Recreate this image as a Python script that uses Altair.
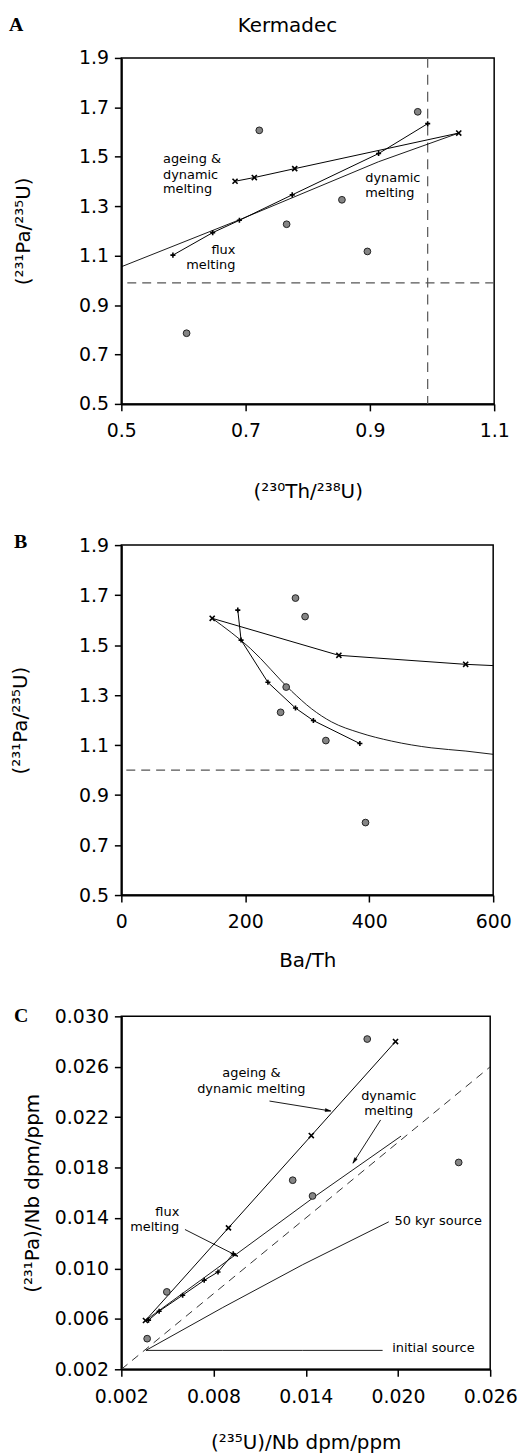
import math
import altair as alt
import pandas as pd

FONT = "DejaVu Sans"
SERIF = "Liberation Serif"

# ---------------- Panel A data ----------------
a_samples_x = [0.977, 0.722, 0.855, 0.766, 0.896, 0.605]
a_samples_y = [1.682, 1.607, 1.326, 1.227, 1.117, 0.786]
a_ageing_x = [0.683, 0.714, 0.779, 1.043]
a_ageing_y = [1.401, 1.416, 1.452, 1.596]
a_flux_x = [0.583, 0.647, 0.690, 0.775, 0.914, 0.993]
a_flux_y = [1.102, 1.193, 1.243, 1.346, 1.513, 1.634]
a_dyn_x = [0.500, 0.690, 0.914, 1.043]
a_dyn_y = [1.055, 1.245, 1.480, 1.596]
a_hline = [0.99]
a_vline = [0.993]
a_xticks = [0.5, 0.7, 0.9, 1.1]
a_yticks = [0.5, 0.7, 0.9, 1.1, 1.3, 1.5, 1.7, 1.9]
a_lab_left_text = ["ageing &", "dynamic", "melting", "dynamic", "melting"]
a_lab_left_x = [0.567, 0.567, 0.567, 0.8925, 0.8925]
a_lab_left_y = [1.489, 1.428, 1.368, 1.415, 1.352]
a_lab_right_text = ["flux", "melting"]
a_lab_right_x = [0.6835, 0.6835]
a_lab_right_y = [1.122, 1.063]

# ---------------- Panel B data ----------------
b_samples_x = [281, 296.5, 266, 257, 330, 394]
b_samples_y = [1.688, 1.614, 1.332, 1.231, 1.118, 0.79]
b_ageing_x = [146.6, 351, 555.6, 600]
b_ageing_y = [1.607, 1.459, 1.423, 1.418]
b_ageing_marker_x = [146.6, 351, 555.6]
b_ageing_marker_y = [1.607, 1.459, 1.423]
b_flux_x = [187.9, 193.2, 236.5, 281, 309.9, 384.9]
b_flux_y = [1.64, 1.52, 1.351, 1.248, 1.198, 1.106]
b_dyn_x = [146.6, 208, 275, 307, 339, 385, 436, 500, 556, 600]
b_dyn_y = [1.607, 1.487, 1.315, 1.245, 1.193, 1.149, 1.116, 1.089, 1.076, 1.063]
b_hline = [1.0]
b_xticks = [0, 200, 400, 600]
b_yticks = [0.5, 0.7, 0.9, 1.1, 1.3, 1.5, 1.7, 1.9]

# ---------------- Panel C data ----------------
c_samples_x = [0.0180, 0.01315, 0.01444, 0.02395, 0.00496, 0.00368]
c_samples_y = [0.0282, 0.0170, 0.01575, 0.01841, 0.00814, 0.00443]
c_ageing_x = [0.00357, 0.00897, 0.01436, 0.01984]
c_ageing_y = [0.00587, 0.01322, 0.02054, 0.02800]
c_flux_x = [0.00377, 0.00446, 0.00599, 0.00739, 0.00829, 0.00928]
c_flux_y = [0.0059, 0.00661, 0.00788, 0.00906, 0.00972, 0.01117]
c_dyn_x = [0.0036, 0.0090, 0.0147, 0.0202]
c_dyn_y = [0.0059, 0.0107, 0.0158, 0.0205]
c_kyr50_x = [0.0036, 0.0086, 0.0138, 0.0194]
c_kyr50_y = [0.0035, 0.0069, 0.0103, 0.0137]
c_init_x = [0.0036, 0.0086, 0.0138, 0.0190]
c_init_y = [0.0035, 0.0035, 0.0035, 0.0035]
c_equi_x = [0.002, 0.026]
c_equi_y = [0.002, 0.026]
c_xticks = [0.002, 0.008, 0.014, 0.020, 0.026]
c_yticks = [0.002, 0.006, 0.010, 0.014, 0.018, 0.022, 0.026, 0.030]
c_lab_center_text = ["ageing &", "dynamic melting", "dynamic", "melting"]
c_lab_center_x = [0.01046, 0.01046, 0.01940, 0.01940]
c_lab_center_y = [0.02547, 0.02426, 0.02368, 0.02249]
c_lab_right_text = ["flux", "melting"]
c_lab_right_x = [0.00577, 0.00577]
c_lab_right_y = [0.01446, 0.01327]
c_lab_left_text = ["50 kyr source", "initial source"]
c_lab_left_x = [0.01977, 0.01962]
c_lab_left_y = [0.01375, 0.00366]
c_arrow_x1 = [0.01164, 0.01887, 0.00614]
c_arrow_y1 = [0.02328, 0.02178, 0.01309]
c_arrow_x2 = [0.01563, 0.01707, 0.00959]
c_arrow_y2 = [0.02249, 0.01835, 0.01096]

CROSS = "M-1,-1L1,1M-1,1L1,-1"
PLUS = "M-1,0L1,0M0,-1L0,1"
ARROW = "M0,0L0.65,2.4L-0.65,2.4Z"


def make_panel(xdom, ydom, xticks, yticks, xfmt, yfmt, xtitle, ytitle, xtp, ytp):
    X = dict(scale=alt.Scale(domain=xdom, nice=False, zero=False),
             axis=alt.Axis(values=xticks, format=xfmt, title=xtitle,
                           titlePadding=xtp, labelFlush=False))
    Y = dict(scale=alt.Scale(domain=ydom, nice=False, zero=False),
             axis=alt.Axis(values=yticks, format=yfmt, title=ytitle,
                           titlePadding=ytp, labelFlush=False))
    return X, Y


def df_xy(xs, ys, **extra):
    d = {"x": xs, "y": ys, "i": list(range(len(xs)))}
    d.update(extra)
    return pd.DataFrame(d)


def line(X, Y, xs, ys, width=1.0, dash=None, color="black", interp="linear"):
    kw = dict(color=color, strokeWidth=width, clip=True, interpolate=interp)
    if dash:
        kw["strokeDash"] = dash
    return alt.Chart(df_xy(xs, ys)).mark_line(**kw).encode(
        x=alt.X("x:Q", **X), y=alt.Y("y:Q", **Y), order="i:Q")


def markers(X, Y, xs, ys, shape, size=26, width=1.6):
    return alt.Chart(df_xy(xs, ys)).mark_point(
        shape=shape, size=size, filled=False, stroke="black",
        strokeWidth=width, opacity=1).encode(
        x=alt.X("x:Q", **X), y=alt.Y("y:Q", **Y))


def circles(X, Y, xs, ys):
    return alt.Chart(df_xy(xs, ys)).mark_point(
        shape="circle", size=46, filled=True, fill="#858585", stroke="#222222",
        strokeWidth=1, opacity=1).encode(
        x=alt.X("x:Q", **X), y=alt.Y("y:Q", **Y))


def texts(X, Y, xs, ys, labels, align):
    return alt.Chart(df_xy(xs, ys, t=labels)).mark_text(
        align=align, baseline="middle", font=FONT, fontSize=13,
        color="black").encode(
        x=alt.X("x:Q", **X), y=alt.Y("y:Q", **Y), text="t:N")


def hrule(X, Y, vals, dash):
    return alt.Chart(pd.DataFrame({"y": vals})).mark_rule(
        color="#555555", strokeWidth=1.2, strokeDash=dash).encode(
        y=alt.Y("y:Q", **Y))


def vrule(X, Y, vals, dash):
    return alt.Chart(pd.DataFrame({"x": vals})).mark_rule(
        color="#555555", strokeWidth=1.2, strokeDash=dash).encode(
        x=alt.X("x:Q", **X))


def pixel_text(txt, px, py, font, size, weight="normal", align="left"):
    return alt.Chart(pd.DataFrame({"t": [txt]})).mark_text(
        align=align, baseline="alphabetic", font=font, fontSize=size,
        fontWeight=weight, color="black").encode(
        x=alt.value(px), y=alt.value(py), text="t:N")


def spacer(py):
    # invisible, zero-opacity rule that fixes the panel's layout extent
    return alt.Chart(pd.DataFrame({"s": [0]})).mark_rule(
        stroke="black", strokeOpacity=0, strokeWidth=0.01).encode(
        x=alt.value(0), x2=alt.value(1), y=alt.value(py), y2=alt.value(py))


# ---------------- Panel A ----------------
WA, HA = 375, 348
XA, YA = make_panel([0.5, 1.1], [0.5, 1.9], a_xticks, a_yticks,
                    ".1f", ".1f", "(²³⁰Th/²³⁸U)", "(²³¹Pa/²³⁵U)", 41, 45)
panelA = alt.layer(
    hrule(XA, YA, a_hline, [9, 6]),
    vrule(XA, YA, a_vline, [10, 7]),
    line(XA, YA, a_dyn_x, a_dyn_y, width=0.9),
    line(XA, YA, a_ageing_x, a_ageing_y),
    line(XA, YA, a_flux_x, a_flux_y),
    markers(XA, YA, a_ageing_x, a_ageing_y, CROSS),
    markers(XA, YA, a_flux_x, a_flux_y, PLUS),
    circles(XA, YA, a_samples_x, a_samples_y),
    texts(XA, YA, a_lab_left_x, a_lab_left_y, a_lab_left_text, "left"),
    texts(XA, YA, a_lab_right_x, a_lab_right_y, a_lab_right_text, "right"),
    pixel_text("Kermadec", 167, -26, FONT, 20, align="center"),
    pixel_text("A", -113, -27, SERIF, 20, weight="bold"),
    spacer(-45),
    spacer(HA + 108),
).properties(width=WA, height=HA)

# ---------------- Panel B ----------------
WB, HB = 374, 352
XB, YB = make_panel([0, 600], [0.5, 1.9], b_xticks, b_yticks,
                    "d", ".1f", "Ba/Th", "(²³¹Pa/²³⁵U)", 19, 48)
panelB = alt.layer(
    hrule(XB, YB, b_hline, [9, 6]),
    line(XB, YB, b_dyn_x, b_dyn_y, width=0.9, interp="monotone"),
    line(XB, YB, b_ageing_x, b_ageing_y),
    line(XB, YB, b_flux_x, b_flux_y),
    markers(XB, YB, b_ageing_marker_x, b_ageing_marker_y, CROSS),
    markers(XB, YB, b_flux_x, b_flux_y, PLUS),
    circles(XB, YB, b_samples_x, b_samples_y),
    pixel_text("B", -108, 3, SERIF, 20, weight="bold"),
    spacer(-21),
    spacer(HB + 89),
).properties(width=WB, height=HB)

# ---------------- Panel C ----------------
WC, HC = 371, 355
CXD, CYD = [0.002, 0.026], [0.002, 0.030]
XC, YC = make_panel(CXD, CYD, c_xticks, c_yticks, ".3f", ".3f",
                    "(²³⁵U)/Nb dpm/ppm", "(²³¹Pa)/Nb dpm/ppm", 27, 12)

angles = []
for x1, y1, x2, y2 in zip(c_arrow_x1, c_arrow_y1, c_arrow_x2, c_arrow_y2):
    dx = (x2 - x1) * WC / (CXD[1] - CXD[0])
    up = (y2 - y1) * HC / (CYD[1] - CYD[0])
    angles.append(math.degrees(math.atan2(dx, up)) % 360)

arrow_df = pd.DataFrame({"x": c_arrow_x1, "y": c_arrow_y1,
                         "x2": c_arrow_x2, "y2": c_arrow_y2, "a": angles})
arrow_shafts = alt.Chart(arrow_df).mark_rule(color="black", strokeWidth=0.9).encode(
    x=alt.X("x:Q", **XC), y=alt.Y("y:Q", **YC), x2="x2:Q", y2="y2:Q")
arrow_heads = alt.Chart(arrow_df).mark_point(
    shape=ARROW, size=22, filled=True, fill="black", stroke="black",
    strokeWidth=0.5, opacity=1).encode(
    x=alt.X("x2:Q", **XC), y=alt.Y("y2:Q", **YC), angle=alt.Angle("a:Q", scale=None))

panelC = alt.layer(
    line(XC, YC, c_equi_x, c_equi_y, width=1.0, dash=[8, 6], color="#333333"),
    line(XC, YC, c_init_x, c_init_y, width=0.9),
    line(XC, YC, c_kyr50_x, c_kyr50_y, width=0.9),
    line(XC, YC, c_dyn_x, c_dyn_y, width=0.9),
    line(XC, YC, c_ageing_x, c_ageing_y),
    line(XC, YC, c_flux_x, c_flux_y),
    markers(XC, YC, c_ageing_x, c_ageing_y, CROSS),
    markers(XC, YC, c_flux_x, c_flux_y, PLUS),
    circles(XC, YC, c_samples_x, c_samples_y),
    arrow_shafts,
    arrow_heads,
    texts(XC, YC, c_lab_center_x, c_lab_center_y, c_lab_center_text, "center"),
    texts(XC, YC, c_lab_right_x, c_lab_right_y, c_lab_right_text, "right"),
    texts(XC, YC, c_lab_left_x, c_lab_left_y, c_lab_left_text, "left"),
    pixel_text("C", -108, 6, SERIF, 20, weight="bold"),
    spacer(-20),
).properties(width=WC, height=HC)

chart = alt.vconcat(panelA, panelB, panelC, spacing=11).properties(
    padding={"left": 0, "top": 0, "right": 5, "bottom": 0}
).configure_view(
    stroke="black", strokeWidth=1.5
).configure_axis(
    grid=False, domainColor="black", domainWidth=2, tickColor="black",
    tickWidth=1.5, tickSize=7, labelFont=FONT, labelFontSize=19,
    labelColor="black", titleFont=FONT, titleFontSize=20,
    titleFontWeight="normal", titleColor="black"
).configure_axisX(labelPadding=11).configure_axisY(labelPadding=6)

chart.save("out.html", embed_options={"renderer": "svg", "actions": False})
